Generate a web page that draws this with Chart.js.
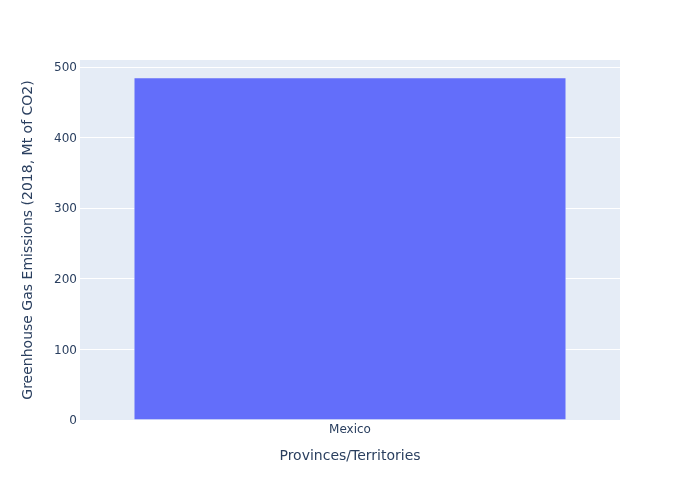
<!DOCTYPE html>
<html>
<head>
<meta charset="utf-8">
<script src="https://cdn.jsdelivr.net/npm/chart.js@4/dist/chart.umd.min.js"></script>
<style>
html,body{margin:0;padding:0;background:#fff;}
#wrap{width:700px;height:500px;}
</style>
</head>
<body>
<div id="wrap"><canvas id="c" width="700" height="500"></canvas></div>
<script>
const categories = ["Mexico"];
const emissions = [485];
const yTicks = [0, 100, 200, 300, 400, 500];

const FONT = '"DejaVu Sans", Verdana, sans-serif';

const bgPlugin = {
  id: 'plotBg',
  beforeDraw(chart) {
    const {ctx, chartArea: a} = chart;
    ctx.save();
    ctx.fillStyle = '#E5ECF6';
    ctx.fillRect(a.left, a.top, a.right - a.left, a.bottom - a.top);
    ctx.restore();
  }
};

new Chart(document.getElementById('c'), {
  type: 'bar',
  data: {
    labels: categories,
    datasets: [{
      data: emissions,
      backgroundColor: '#636efa',
      borderColor: '#E5ECF6',
      borderWidth: 0.5,
      categoryPercentage: 0.8,
      barPercentage: 1.0
    }]
  },
  options: {
    responsive: false,
    animation: false,
    layout: {padding: {top: 60, right: 80, left: 0, bottom: 0}},
    plugins: {legend: {display: false}, tooltip: {enabled: false}},
    scales: {
      x: {
        grid: {display: false, drawTicks: false},
        border: {display: false},
        ticks: {color: '#2a3f5f', font: {family: FONT, size: 12}, padding: 3},
        title: {display: true, text: 'Provinces/Territories', color: '#2a3f5f',
                font: {family: FONT, size: 14}, padding: {top: 0, bottom: 35}},
        afterFit(s) { s.height = 80; }
      },
      y: {
        min: 0, max: 510,
        afterBuildTicks(s) { s.ticks = yTicks.map(v => ({value: v})); },
        grid: {color: '#ffffff', lineWidth: 1, drawTicks: false},
        border: {display: false},
        ticks: {color: '#2a3f5f', font: {family: FONT, size: 12}, padding: 3, labelOffset: 1},
        title: {display: true, text: 'Greenhouse Gas Emissions (2018, Mt of CO2)', color: '#2a3f5f',
                font: {family: FONT, size: 14}, padding: {top: 20, bottom: 0}},
        afterFit(s) { s.width = 80; }
      }
    }
  },
  plugins: [bgPlugin]
});
</script>
</body>
</html>
